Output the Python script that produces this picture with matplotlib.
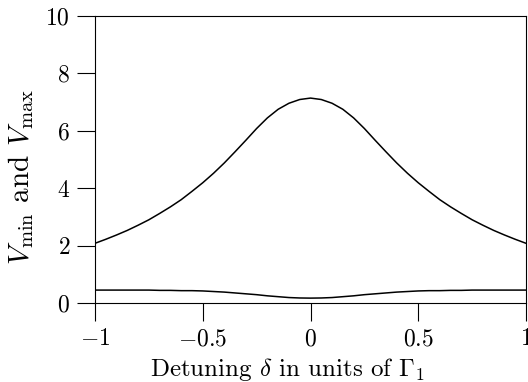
import matplotlib
matplotlib.use("Agg")
import matplotlib.pyplot as plt

plt.rcParams['font.family'] = 'serif'
plt.rcParams['font.serif'] = ['cmr10']
plt.rcParams['mathtext.fontset'] = 'cm'
plt.rcParams['axes.formatter.use_mathtext'] = True
plt.rcParams['axes.unicode_minus'] = True

half_x = [0.0, 0.05, 0.1, 0.15, 0.2, 0.25, 0.3, 0.35, 0.4, 0.45, 0.5,
          0.55, 0.6, 0.65, 0.7, 0.75, 0.8, 0.85, 0.9, 0.95, 1.0]
half_vmax = [7.14, 7.09, 6.96, 6.75, 6.45, 6.08, 5.67, 5.27, 4.88, 4.52, 4.19,
             3.89, 3.60, 3.35, 3.12, 2.90, 2.71, 2.53, 2.37, 2.22, 2.08]
half_vmin = [0.17, 0.175, 0.19, 0.22, 0.25, 0.29, 0.32, 0.35, 0.38, 0.40, 0.42,
             0.43, 0.43, 0.44, 0.44, 0.45, 0.45, 0.45, 0.45, 0.45, 0.45]

detuning = [-x for x in half_x[:0:-1]] + half_x
v_max = half_vmax[:0:-1] + half_vmax
v_min = half_vmin[:0:-1] + half_vmin

xticks = [-1, -0.5, 0, 0.5, 1]
xticklabels = [r'$-1$', r'$-0.5$', r'$0$', r'$0.5$', r'$1$']
yticks = [0, 2, 4, 6, 8, 10]

fig = plt.figure(figsize=(5.28, 3.82), dpi=100)
ax = fig.add_axes([95/528, 1 - 303/382, 431/528, 287/382])
ax.plot(detuning, v_max, color='black', lw=1.1)
ax.plot(detuning, v_min, color='black', lw=1.1)
ax.set_xlim(-1, 1)
ax.set_ylim(0, 10)
ax.set_xticks(xticks)
ax.set_xticklabels(xticklabels)
ax.set_yticks(yticks)
ax.set_yticklabels([rf'${v}$' for v in yticks])
ax.tick_params(direction='out', length=13, width=0.8, labelsize=17, pad=5,
               top=False, right=False)
for s in ax.spines.values():
    s.set_linewidth(0.8)
fig.text(287/528, 1 - 369.5/382, r'Detuning $\delta$ in units of $\Gamma_1$',
         fontsize=18, ha='center', va='center')
fig.text(21/528, 1 - 177/382, r'$V_{\rm min}$ and $V_{\rm max}$',
         fontsize=21, ha='center', va='center', rotation=90)
fig.savefig('out.png', dpi=100)
